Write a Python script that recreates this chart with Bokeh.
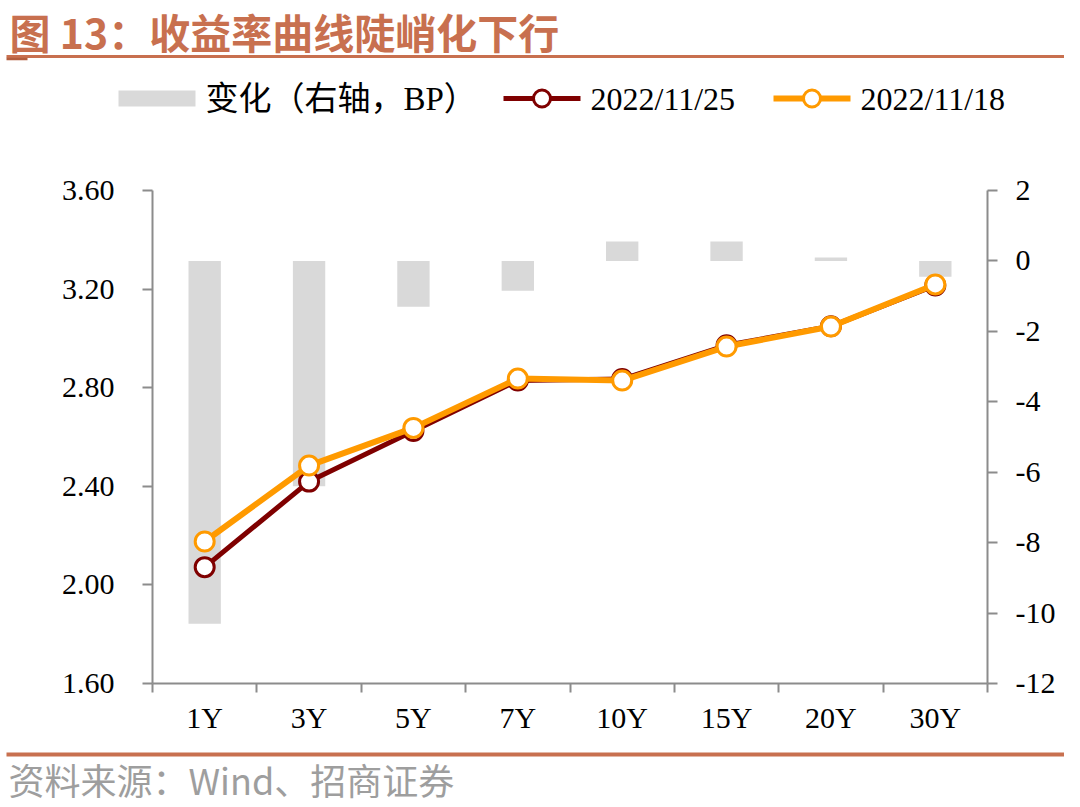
from bokeh.plotting import figure
from bokeh.models import Range1d, LinearAxis, FixedTicker, PrintfTickFormatter
from bokeh.embed import file_html
from bokeh.resources import INLINE
from bokeh.core.properties import value

# ---------------- data ----------------
categories = ["1Y", "3Y", "5Y", "7Y", "10Y", "15Y", "20Y", "30Y"]
yield_1125 = [2.072, 2.419, 2.624, 2.829, 2.835, 2.972, 3.049, 3.215]
yield_1118 = [2.176, 2.484, 2.637, 2.837, 2.829, 2.967, 3.048, 3.219]
change_bp = [-10.3, -6.4, -1.3, -0.85, 0.55, 0.55, 0.1, -0.45]
left_ticks = [1.6, 2.0, 2.4, 2.8, 3.2, 3.6]
right_ticks = [-12, -10, -8, -6, -4, -2, 0, 2]
series_names = ["变化（右轴，BP）", "2022/11/25", "2022/11/18"]
title_text = "图 13：收益率曲线陡峭化下行"
source_text = "资料来源：Wind、招商证券"

# ---------------- styles ----------------
ACCENT = "#C8704F"
ACCENT_DARK = "#B35E3E"
BAR = "#D9D9D9"
DARKRED = "#7F0000"
ORANGE = "#FF9A00"
AXIS = "#8C8C8C"
SERIF = "Liberation Serif"
MIXED = "Liberation Serif, Noto Sans CJK SC"
W = 1064


def blank(h):
    f = figure(width=W, height=h, x_range=Range1d(0, W), y_range=Range1d(h, 0),
               x_axis_type=None, y_axis_type=None, toolbar_location=None,
               output_backend="svg", min_border=0, min_border_left=0,
               min_border_right=0, min_border_top=0, min_border_bottom=0)
    f.outline_line_color = None
    f.grid.visible = False
    return f

# ---------------- header: title + legend ----------------
H1 = 130
hdr = blank(H1)
hdr.text(x=[9], y=[30], text=[title_text], text_font=value("Noto Sans CJK SC"),
         text_font_style="bold", text_font_size="41px", text_color=ACCENT,
         text_baseline="middle", text_align="left")
hdr.segment(x0=[6], y0=[56], x1=[W], y1=[56], line_color=ACCENT, line_width=3)
hdr.segment(x0=[6], y0=[58.5], x1=[27], y1=[58.5], line_color=ACCENT_DARK, line_width=2.5)

ly = 98
hdr.rect(x=[156.5], y=[ly], width=77, height=16, fill_color=BAR, line_color=None)
hdr.text(x=[205], y=[ly], text=[series_names[0]], text_font=value(MIXED),
         text_font_size="33px", text_baseline="middle", text_color="#000000")
for x0, col, lw, name in [(503, DARKRED, 5, series_names[1]), (773, ORANGE, 6, series_names[2])]:
    hdr.segment(x0=[x0], y0=[ly], x1=[x0 + 77], y1=[ly], line_color=col, line_width=lw)
    hdr.scatter(x=[x0 + 38.5], y=[ly], size=17, fill_color="white", line_color=col, line_width=3)
    hdr.text(x=[x0 + 87], y=[ly], text=[name], text_font=value(SERIF),
             text_font_size="32px", text_baseline="middle", text_color="#000000")

# ---------------- main chart ----------------
H2 = 614
xs = [i + 0.5 for i in range(len(categories))]
p = figure(width=W, height=H2, x_range=Range1d(0, len(categories)),
           y_range=Range1d(left_ticks[0], left_ticks[-1]),
           toolbar_location=None, output_backend="svg",
           min_border_left=152, min_border_right=77, min_border_top=60, min_border_bottom=61)
p.extra_y_ranges = {"right": Range1d(right_ticks[0], right_ticks[-1])}
p.outline_line_color = None
p.grid.visible = False

p.vbar(x=xs, top=change_bp, bottom=0, width=0.31, y_range_name="right",
       fill_color=BAR, line_color=None)

p.line(xs, yield_1125, line_color=DARKRED, line_width=5)
p.scatter(xs, yield_1125, size=19, fill_color="white", line_color=DARKRED, line_width=3)
p.line(xs, yield_1118, line_color=ORANGE, line_width=6)
p.scatter(xs, yield_1118, size=19, fill_color="white", line_color=ORANGE, line_width=3)

# bottom axis
xa = p.xaxis[0]
xa.ticker = FixedTicker(ticks=xs, minor_ticks=list(range(len(categories) + 1)))
xa.major_label_overrides = {x: c for x, c in zip(xs, categories)}
xa.major_tick_out = 0
xa.major_tick_in = 0
xa.minor_tick_out = 9
xa.minor_tick_in = 0
xa.minor_tick_line_color = AXIS
xa.minor_tick_line_width = 2
xa.axis_line_color = AXIS
xa.axis_line_width = 2
xa.major_label_text_font = SERIF
xa.major_label_text_font_size = "30px"
xa.major_label_text_color = "#000000"
xa.major_label_standoff = 8

# left axis
ya = p.yaxis[0]
ya.ticker = FixedTicker(ticks=left_ticks, minor_ticks=[])
ya.formatter = PrintfTickFormatter(format="%.2f")
ya.major_tick_out = 10
ya.major_tick_in = 0
ya.major_tick_line_color = AXIS
ya.major_tick_line_width = 2
ya.axis_line_color = AXIS
ya.axis_line_width = 2
ya.major_label_text_font = SERIF
ya.major_label_text_font_size = "30px"
ya.major_label_text_color = "#000000"
ya.major_label_standoff = 28

# right axis
ra = LinearAxis(y_range_name="right", ticker=FixedTicker(ticks=right_ticks, minor_ticks=[]),
                formatter=PrintfTickFormatter(format="%d"))
ra.major_tick_out = 10
ra.major_tick_in = 0
ra.major_tick_line_color = AXIS
ra.major_tick_line_width = 2
ra.axis_line_color = AXIS
ra.axis_line_width = 2
ra.major_label_text_font = SERIF
ra.major_label_text_font_size = "30px"
ra.major_label_text_color = "#000000"
ra.major_label_standoff = 18
p.add_layout(ra, "right")

# ---------------- footer ----------------
H3 = 62
ftr = blank(H3)
ftr.segment(x0=[6], y0=[10], x1=[W], y1=[10], line_color=ACCENT, line_width=4)
ftr.text(x=[8], y=[34], text=[source_text], text_font=value("Noto Sans CJK SC"),
         text_font_size="36px", text_color="#9E9E9E", text_baseline="middle")

open("out.html", "w").write(file_html([hdr, p, ftr], INLINE))
